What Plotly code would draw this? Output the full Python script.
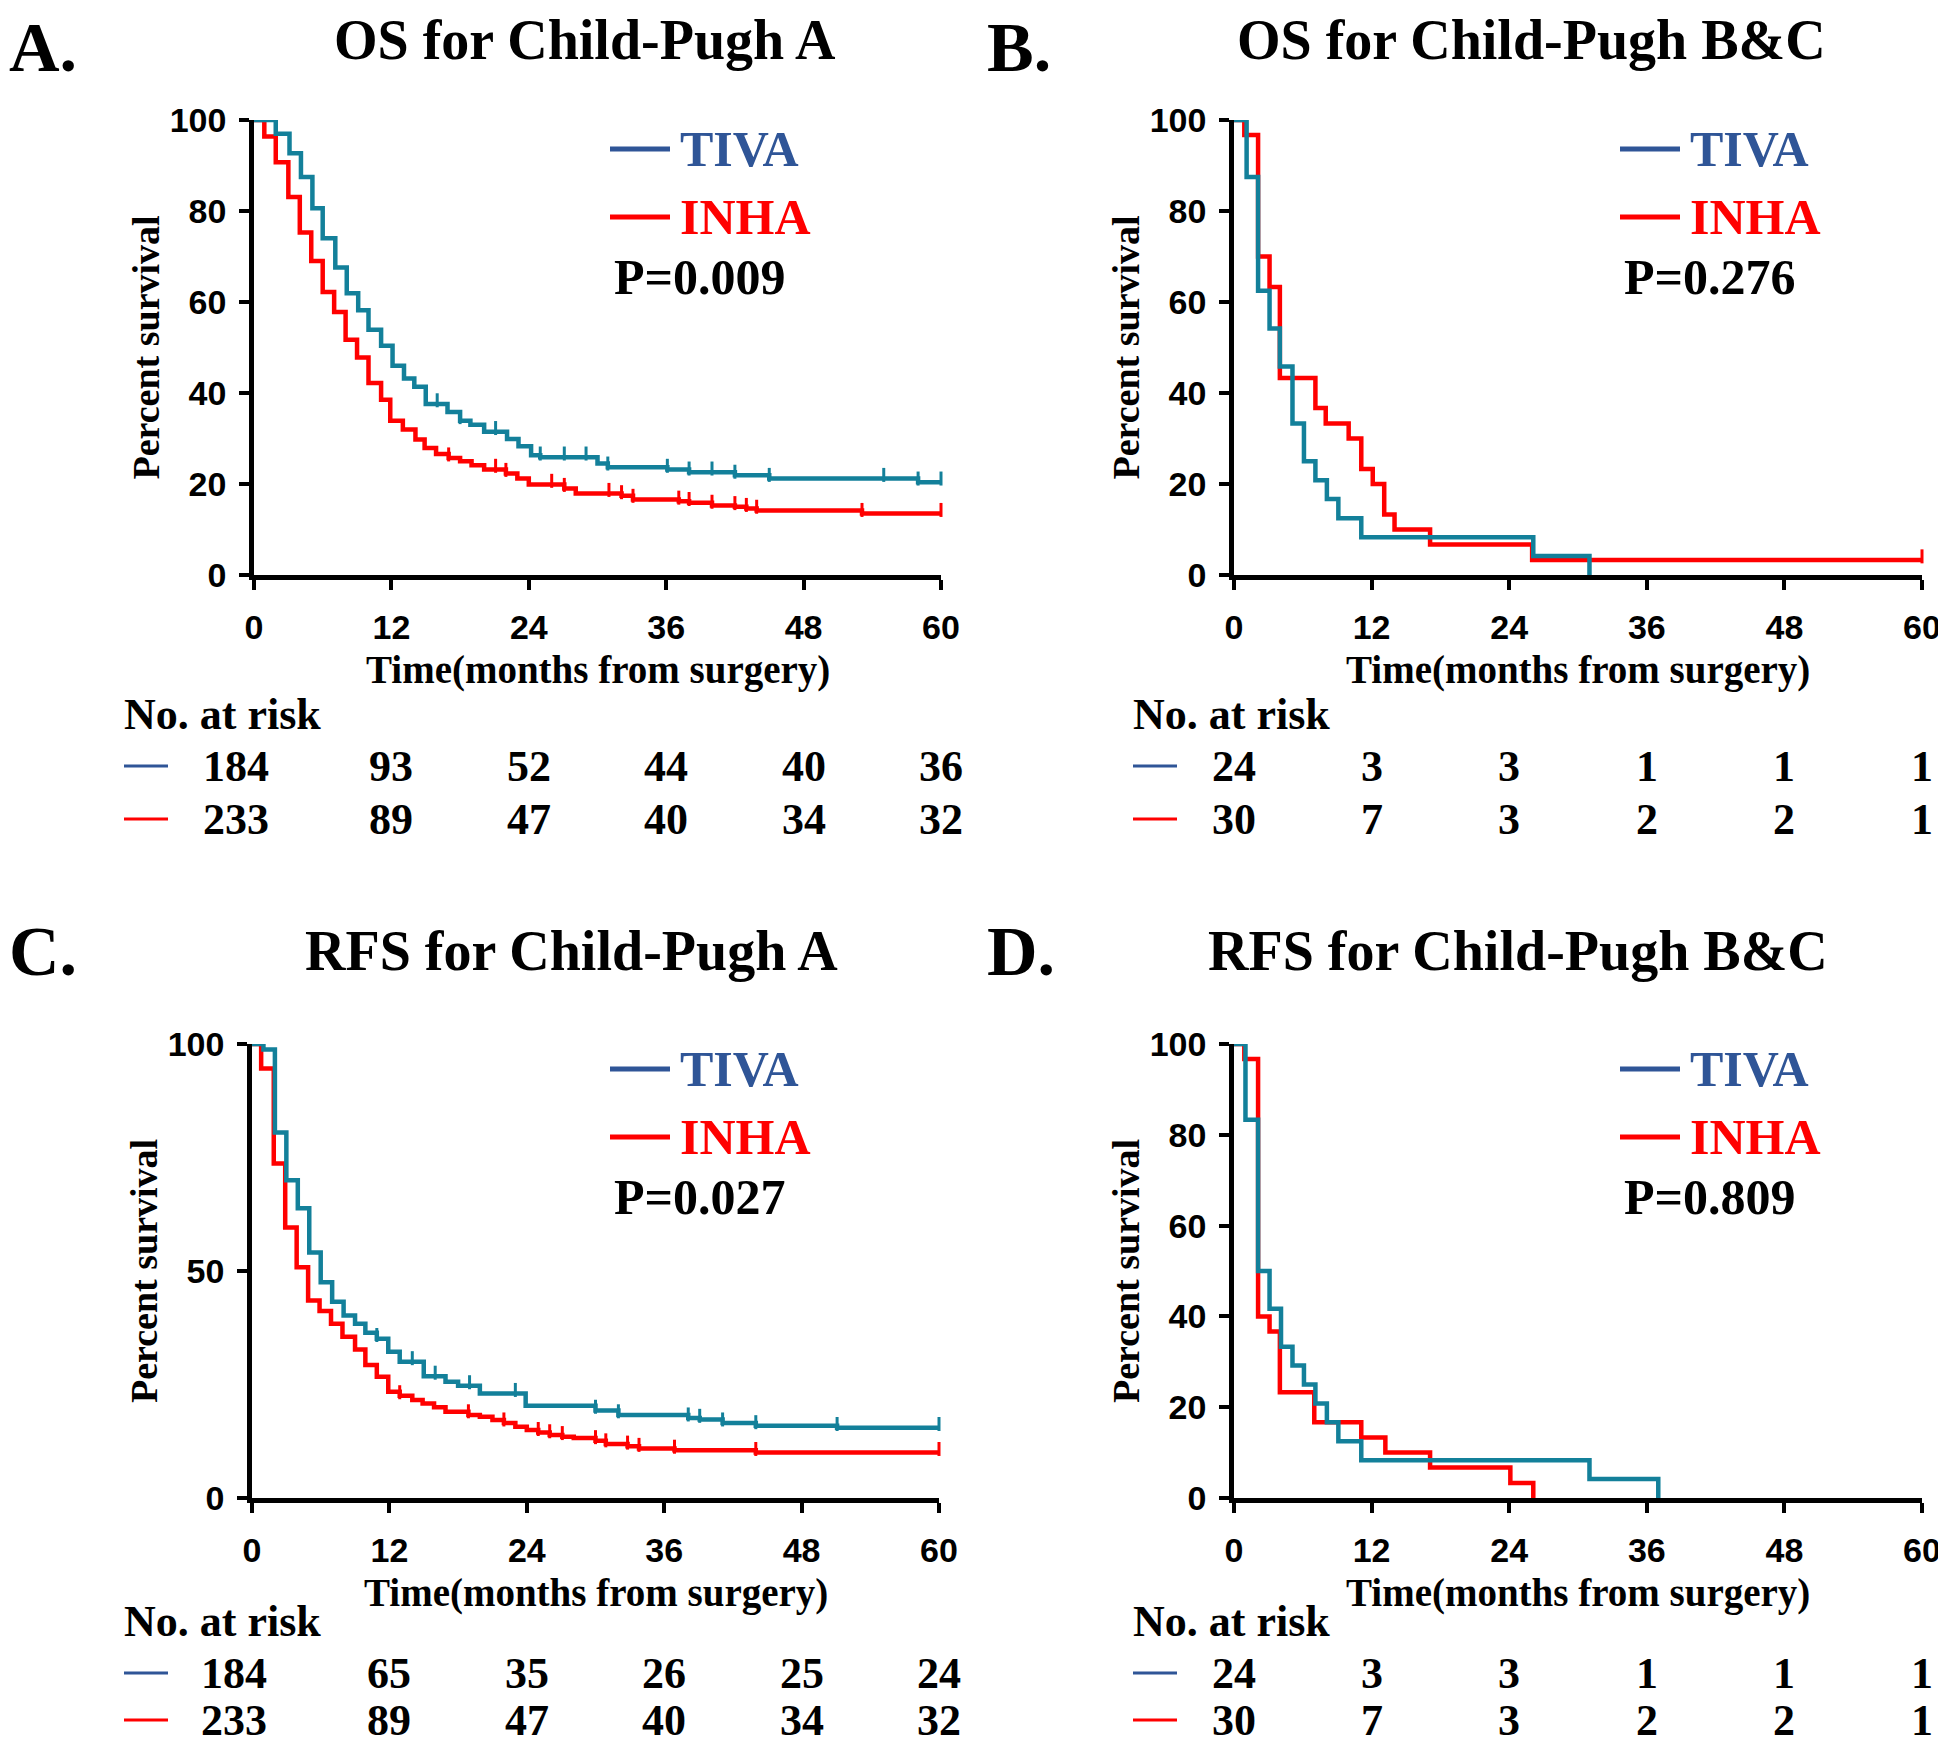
import plotly.graph_objects as go

W, H = 1946, 1746
OFF = 8  # page body margin: screen pixel = paper pixel + OFF

# ---------------- data ----------------
RISK_TIMES = [0, 12, 24, 36, 48, 60]
X_TICKS = [0, 12, 24, 36, 48, 60]

# Panel A: OS, Child-Pugh A
A_TIVA_T = [0, 1.9, 3.1, 4.1, 5.1, 6.0, 7.1, 8.1, 9.1, 10.0, 11.1, 12.1, 13.1, 14.0, 15.0,
            16.9, 18.0, 18.9, 20.1, 22.1, 23.1, 24.2, 25.0, 30.0, 30.9, 36.1, 38.0, 42.0, 45.0, 58.0]
A_TIVA_S = [100, 97.0, 92.7, 87.5, 80.6, 74.0, 67.6, 61.9, 58.2, 53.9, 50.4, 46.0, 43.2, 41.4, 37.6,
            35.8, 33.9, 33.0, 31.5, 29.9, 28.3, 26.3, 25.9, 24.5, 23.7, 23.2, 22.6, 21.9, 21.2, 20.4]
A_TIVA_END = 60
A_TIVA_CENS = [1.0, 16.0, 18.0, 21.1, 25.0, 27.1, 29.0, 30.9, 36.1, 38.0, 40.0, 42.0, 45.0, 55.0, 58.0, 60.0]

A_INHA_T = [0, 0.9, 1.9, 3.0, 4.0, 5.0, 6.0, 7.0, 8.0, 9.0, 10.0, 11.1, 11.9, 13.0, 14.1, 14.9,
            15.9, 17.0, 18.0, 19.0, 20.1, 22.0, 23.0, 24.0, 27.1, 28.1, 32.1, 33.1, 37.1, 38.0,
            40.0, 42.0, 43.0, 43.9, 53.1]
A_INHA_S = [100, 96.4, 90.7, 83.1, 75.3, 69.0, 62.2, 57.8, 51.7, 47.8, 42.2, 38.5, 33.9, 32.0, 29.8, 27.9,
            26.6, 25.7, 25.0, 24.1, 23.2, 22.3, 21.2, 19.9, 19.0, 17.9, 17.4, 16.6, 16.2, 15.9,
            15.3, 15.0, 14.6, 14.2, 13.5]
A_INHA_END = 60
A_INHA_CENS = [17.0, 21.1, 22.0, 26.0, 27.1, 31.0, 32.1, 33.1, 37.1, 38.0, 40.0, 42.0, 43.0, 43.9, 53.1, 60.0]

# Panel B: OS, Child-Pugh B&C
B_TIVA_T = [0, 1.1, 2.1, 3.1, 4.0, 5.1, 6.1, 7.1, 8.1, 9.1, 11.1, 26.1, 31.0]
B_TIVA_S = [100, 87.5, 62.5, 54.2, 45.8, 33.3, 25.0, 20.8, 16.7, 12.5, 8.3, 4.2, 0]
B_TIVA_END = 31.0
B_TIVA_CENS = []

B_INHA_T = [0, 0.9, 2.1, 3.1, 4.0, 7.1, 8.0, 10.0, 11.1, 12.1, 13.1, 14.0, 17.1, 26.0]
B_INHA_S = [100, 96.7, 70.0, 63.3, 43.3, 36.7, 33.3, 30.0, 23.3, 20.0, 13.3, 10.0, 6.7, 3.3]
B_INHA_END = 60
B_INHA_CENS = [60.0]

# Panel C: RFS, Child-Pugh A
C_TIVA_T = [0, 1.0, 2.0, 3.0, 4.0, 5.0, 6.0, 7.0, 8.0, 9.0, 9.9, 10.9, 11.9, 12.9, 15.0, 16.9,
            18.0, 19.9, 23.9, 30.0, 32.0, 38.1, 39.1, 41.1, 44.0, 51.1]
C_TIVA_S = [100, 98.8, 80.5, 70.0, 63.8, 54.1, 47.5, 43.2, 40.2, 38.4, 36.4, 35.1, 32.2, 30.0, 26.8, 25.6,
            24.7, 23.0, 20.3, 19.3, 18.3, 17.6, 17.3, 16.5, 15.9, 15.5]
C_TIVA_END = 60
C_TIVA_CENS = [0.9, 10.9, 14.0, 16.0, 19.0, 23.0, 30.0, 32.0, 38.1, 39.1, 41.1, 44.0, 51.1, 60.0]

C_INHA_T = [0, 0.8, 1.9, 2.9, 3.9, 4.9, 5.9, 6.9, 7.9, 9.0, 9.9, 10.9, 11.9, 12.9, 14.0, 14.9,
            15.9, 16.9, 18.9, 19.9, 21.0, 22.0, 23.0, 24.0, 25.0, 26.0, 27.1, 28.1, 30.0,
            30.9, 32.8, 33.8, 36.9, 44.0]
C_INHA_S = [100, 94.6, 73.7, 59.6, 50.8, 43.5, 41.2, 38.4, 35.5, 32.7, 29.3, 26.7, 23.4, 22.5, 21.6, 20.8,
            20.0, 19.0, 18.3, 17.9, 17.2, 16.5, 15.7, 15.0, 14.4, 13.9, 13.5, 13.2, 12.6,
            11.9, 11.4, 10.9, 10.5, 10.0]
C_INHA_END = 60
C_INHA_CENS = [12.9, 18.9, 22.0, 25.0, 26.0, 27.1, 30.0, 30.9, 32.8, 33.8, 36.9, 44.0, 60.0]

# Panel D: RFS, Child-Pugh B&C
D_TIVA_T = [0, 1.0, 2.1, 3.1, 4.1, 5.1, 6.1, 7.1, 8.1, 9.1, 11.1, 31.0, 37.0]
D_TIVA_S = [100, 83.3, 50.0, 41.7, 33.3, 29.2, 25.0, 20.8, 16.7, 12.5, 8.3, 4.2, 0]
D_TIVA_END = 37.0
D_TIVA_CENS = []

D_INHA_T = [0, 0.9, 2.1, 3.1, 4.0, 7.0, 11.1, 13.2, 17.1, 24.1, 26.1]
D_INHA_S = [100, 96.7, 40.0, 36.7, 23.3, 16.7, 13.3, 10.0, 6.7, 3.3, 0]
D_INHA_END = 26.1
D_INHA_CENS = []

# numbers at risk
A_RISK_TIVA = [184, 93, 52, 44, 40, 36]
A_RISK_INHA = [233, 89, 47, 40, 34, 32]
B_RISK_TIVA = [24, 3, 3, 1, 1, 1]
B_RISK_INHA = [30, 7, 3, 2, 2, 1]
C_RISK_TIVA = [184, 65, 35, 26, 25, 24]
C_RISK_INHA = [233, 89, 47, 40, 34, 32]
D_RISK_TIVA = [24, 3, 3, 1, 1, 1]
D_RISK_INHA = [30, 7, 3, 2, 2, 1]

TITLES = ["OS for Child-Pugh A", "OS for Child-Pugh B&C", "RFS for Child-Pugh A", "RFS for Child-Pugh B&C"]
LETTERS = ["A.", "B.", "C.", "D."]
PVALUES = ["P=0.009", "P=0.276", "P=0.027", "P=0.809"]
Y_TICKS = [[0, 20, 40, 60, 80, 100], [0, 20, 40, 60, 80, 100], [0, 50, 100], [0, 20, 40, 60, 80, 100]]

# ---------------- style ----------------
TEAL = "#13809A"
BLUE = "#2F5597"
RED = "#FF0000"
SERIF = "Liberation Serif"
SANS = "Liberation Sans"


def px(x):
    return (x - OFF) / W


def py(y):
    return 1 - (y - OFF) / H


# panel geometry in screen pixels: (x0, x1, ytop, ybottom)
GEOM = [
    (254, 941, 120, 575),
    (1234, 1922, 120, 575),
    (252, 939, 1044, 1498),
    (1234, 1922, 1044, 1498),
]

panels = [
    (A_TIVA_T, A_TIVA_S, A_TIVA_END, A_TIVA_CENS, A_INHA_T, A_INHA_S, A_INHA_END, A_INHA_CENS, A_RISK_TIVA, A_RISK_INHA),
    (B_TIVA_T, B_TIVA_S, B_TIVA_END, B_TIVA_CENS, B_INHA_T, B_INHA_S, B_INHA_END, B_INHA_CENS, B_RISK_TIVA, B_RISK_INHA),
    (C_TIVA_T, C_TIVA_S, C_TIVA_END, C_TIVA_CENS, C_INHA_T, C_INHA_S, C_INHA_END, C_INHA_CENS, C_RISK_TIVA, C_RISK_INHA),
    (D_TIVA_T, D_TIVA_S, D_TIVA_END, D_TIVA_CENS, D_INHA_T, D_INHA_S, D_INHA_END, D_INHA_CENS, D_RISK_TIVA, D_RISK_INHA),
]


def surv_at(T, S, t):
    val = S[0]
    for ti, si in zip(T, S):
        if ti <= t + 1e-9:
            val = si
    return val


fig = go.Figure()
annotations = []
shapes = []

for i, (tT, tS, tE, tC, iT, iS, iE, iC, rT, rI) in enumerate(panels):
    n = i + 1
    xa = "x" if n == 1 else f"x{n}"
    ya = "y" if n == 1 else f"y{n}"
    x0, x1, yt, yb = GEOM[i]

    for T, S, E, C, col in [(iT, iS, iE, iC, RED), (tT, tS, tE, tC, TEAL)]:
        fig.add_trace(go.Scatter(
            x=list(T) + [E], y=list(S) + [S[-1]], mode="lines", line=dict(color=col, width=4.5, shape="hv"),
            xaxis=xa, yaxis=ya, showlegend=False, hoverinfo="skip"))
        if C:
            fig.add_trace(go.Scatter(
                x=C, y=[surv_at(T, S, c) + 0.8 for c in C], mode="markers",
                marker=dict(symbol="line-ns", size=10, line=dict(color=col, width=3)),
                xaxis=xa, yaxis=ya, showlegend=False, hoverinfo="skip", cliponaxis=False))

    axis_common = dict(showline=True, linewidth=4.5, linecolor="black", ticks="outside", ticklen=10,
                       tickwidth=4, tickcolor="black", showgrid=False, zeroline=False,
                       tickfont=dict(family=SANS, size=34, color="black", weight="bold"))
    fig.update_layout(**{
        ("xaxis" if n == 1 else f"xaxis{n}"): dict(
            domain=[px(x0), px(x1)], range=[0, 60], tickvals=X_TICKS, anchor=ya,
            ticklabelstandoff=8, **axis_common),
        ("yaxis" if n == 1 else f"yaxis{n}"): dict(
            domain=[py(yb), py(yt)], range=[0, 100], tickvals=Y_TICKS[i], anchor=xa,
            ticklabelstandoff=6, **axis_common),
    })

    top = i < 2
    dx = 0 if i % 2 == 0 else 978
    letter_x = max(px(OFF + dx), 0)
    # panel letter and title (top row anchored to the page top so nothing is cut)
    if top:
        annotations.append(dict(text=LETTERS[i], x=letter_x, y=1, xref="paper", yref="paper",
                                xanchor="left", yanchor="top", showarrow=False, borderpad=0,
                                font=dict(family=SERIF, size=70, color="black", weight="bold")))
        annotations.append(dict(text=TITLES[i], x=px([585, 1531][i]), y=1,
                                xref="paper", yref="paper", xanchor="center", yanchor="top", showarrow=False,
                                borderpad=0,
                                font=dict(family=SERIF, size=56, color="black", weight="bold")))
    else:
        annotations.append(dict(text=LETTERS[i], x=letter_x, y=py(952), xref="paper", yref="paper",
                                xanchor="left", yanchor="middle", showarrow=False, borderpad=0,
                                font=dict(family=SERIF, size=70, color="black", weight="bold")))
        annotations.append(dict(text=TITLES[i], x=px([571, 1518][i - 2]), y=py(951),
                                xref="paper", yref="paper", xanchor="center", yanchor="middle", showarrow=False,
                                font=dict(family=SERIF, size=56, color="black", weight="bold")))
    # legend
    lx = [610, 1620, 610, 1620][i]
    for k, (lab, lcol, tcol) in enumerate([("TIVA", BLUE, BLUE), ("INHA", RED, RED)]):
        yy = [149, 217][k] + (0 if top else 920)
        shapes.append(dict(type="line", xref="paper", yref="paper", x0=px(lx), x1=px(lx + 60),
                           y0=py(yy), y1=py(yy), line=dict(color=lcol, width=5)))
        annotations.append(dict(text=lab, x=px(lx + 68), y=py(yy), xref="paper", yref="paper",
                                xanchor="left", yanchor="middle", showarrow=False,
                                font=dict(family=SERIF, size=50, color=tcol, weight="bold")))
    annotations.append(dict(text=PVALUES[i], x=px(lx + 2), y=py(277 + (0 if top else 920)),
                            xref="paper", yref="paper", xanchor="left", yanchor="middle", showarrow=False,
                            font=dict(family=SERIF, size=50, color="black", weight="bold")))
    # axis titles
    annotations.append(dict(text="Percent survival", x=px(x0 - 108), y=py((yt + yb) / 2),
                            xref="paper", yref="paper", xanchor="center", yanchor="middle",
                            textangle=-90, showarrow=False,
                            font=dict(family=SERIF, size=38, color="black", weight="bold")))
    annotations.append(dict(text="Time(months from surgery)", x=px((x0 + x1) / 2), y=py(yb + 95),
                            xref="paper", yref="paper", xanchor="center", yanchor="middle", showarrow=False,
                            font=dict(family=SERIF, size=39, color="black", weight="bold")))
    # number at risk table
    ry = [714, 766, 819] if top else [1621, 1673, 1720]
    lx0 = 124 + (0 if i % 2 == 0 else 1009)
    annotations.append(dict(text="No. at risk", x=px(lx0 - 2), y=py(ry[0]), xref="paper", yref="paper",
                            xanchor="left", yanchor="middle", showarrow=False,
                            font=dict(family=SERIF, size=44, color="black", weight="bold")))
    for row, (vals, col) in enumerate([(rT, BLUE), (rI, RED)]):
        yy = ry[row + 1]
        shapes.append(dict(type="line", xref="paper", yref="paper", x0=px(lx0), x1=px(lx0 + 44),
                           y0=py(yy), y1=py(yy), line=dict(color=col, width=3)))
        for j, (tm, v) in enumerate(zip(RISK_TIMES, vals)):
            annotations.append(dict(text=str(v), x=tm, y=py(yy), xref=xa, yref="paper",
                                    xanchor="center", yanchor="middle", showarrow=False,
                                    xshift=(-18 if (j == 0 and len(str(v)) == 3) else 0),
                                    font=dict(family=SERIF, size=44, color="black", weight="bold")))

fig.update_layout(width=W, height=H, margin=dict(l=0, r=0, t=0, b=0, autoexpand=False),
                  paper_bgcolor="white", plot_bgcolor="white",
                  annotations=annotations, shapes=shapes, showlegend=False)

fig.write_html("out.html")
